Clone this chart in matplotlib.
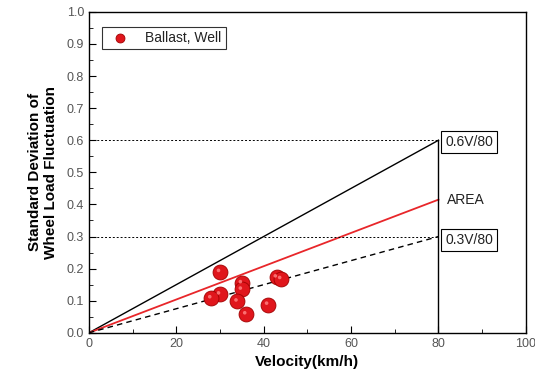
import matplotlib
matplotlib.use("Agg")
import matplotlib.pyplot as plt
from matplotlib.ticker import MultipleLocator

plt.rcParams['font.family'] = ['Liberation Sans', 'DejaVu Sans']

velocity = [30, 35, 35, 30, 28, 34, 43, 44, 41, 36]
std_dev = [0.19, 0.155, 0.135, 0.12, 0.108, 0.098, 0.173, 0.168, 0.088, 0.058]

line_x = [0, 80]
upper_y = [0, 0.6]
area_y = [0, 0.415]
lower_y = [0, 0.3]

fig = plt.figure(figsize=(5.35, 3.83), dpi=100)
ax = fig.add_axes([0.166, 0.131, 0.817, 0.838])

ax.plot(line_x, upper_y, color='black', lw=1.0)
ax.plot(line_x, area_y, color='#e8262a', lw=1.3)
ax.plot(line_x, lower_y, color='black', lw=1.0, ls=(0, (4, 3)))
ax.plot([80, 80], [0, 0.6], color='black', lw=1.0)
ax.plot([0, 80], [0.6, 0.6], color='black', lw=0.7, ls=(0, (2, 2)))
ax.plot([0, 80], [0.3, 0.3], color='black', lw=0.7, ls=(0, (2, 2)))

ax.scatter(velocity, std_dev, s=115, color='#e0161c', edgecolor='#a00000',
           linewidth=0.6, zorder=3, label='Ballast, Well')
hl = matplotlib.markers.MarkerStyle('o').get_path().transformed(
    matplotlib.transforms.Affine2D().scale(1.0).translate(-0.8, 0.8))
ax.scatter(velocity, std_dev, s=22, color='#ff8080', edgecolor='none',
           alpha=0.85, zorder=4, marker=hl)

bbox = dict(boxstyle='square,pad=0.3', fc='white', ec='black', lw=0.8)
ax.text(81.5, 0.595, '0.6V/80', fontsize=10, va='center', ha='left', bbox=bbox, color='#222222')
ax.text(82.0, 0.415, 'AREA', fontsize=10, va='center', ha='left', color='#222222')
ax.text(81.5, 0.29, '0.3V/80', fontsize=10, va='center', ha='left', bbox=bbox, color='#222222')

ax.set_xlim(0, 100)
ax.set_ylim(0, 1.0)
ax.xaxis.set_major_locator(MultipleLocator(20))
ax.xaxis.set_minor_locator(MultipleLocator(10))
ax.yaxis.set_major_locator(MultipleLocator(0.1))
ax.yaxis.set_minor_locator(MultipleLocator(0.05))
ax.yaxis.set_major_formatter(matplotlib.ticker.FormatStrFormatter('%.1f'))
ax.tick_params(which='both', direction='in', top=False, right=False,
               labelsize=9, labelcolor='#555555')
ax.tick_params(which='major', length=5)
ax.tick_params(which='minor', length=3)
for s in ax.spines.values():
    s.set_linewidth(1.0)

ax.set_xlabel('Velocity(km/h)', fontsize=11, fontweight='bold', labelpad=4)
ax.set_ylabel('Standard Deviation of\nWheel Load Fluctuation', fontsize=11,
              fontweight='bold', labelpad=6)

leg = ax.legend(loc='upper left', bbox_to_anchor=(0.015, 0.975), fontsize=10,
                frameon=True, fancybox=False, edgecolor='black', borderpad=0.3,
                handletextpad=0.8, markerscale=0.6, scatterpoints=1)
leg.get_frame().set_linewidth(0.8)
for t in leg.get_texts():
    t.set_color('#222222')

fig.savefig('out.png', dpi=100)
